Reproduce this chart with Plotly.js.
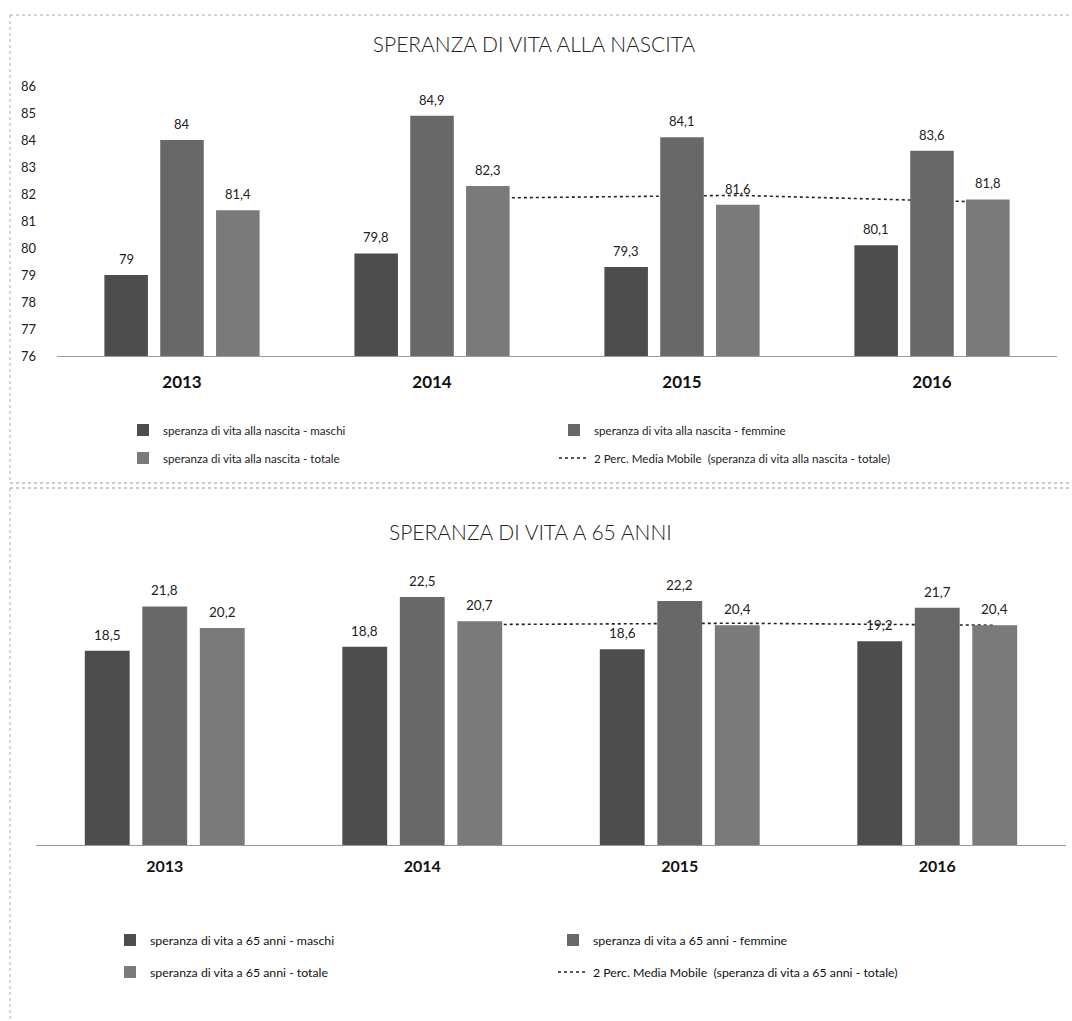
<!DOCTYPE html>
<html>
<head>
<meta charset="utf-8">
<script src="https://cdn.plot.ly/plotly-3.0.1.min.js"></script>
<style>html,body{margin:0;padding:0;background:#fff;overflow:hidden}#chart{width:1072px;height:1021px}</style>
</head>
<body>
<div id="chart"></div>
<script>
// ---- data ----
const years = ['2013', '2014', '2015', '2016'];
const nascitaMaschi = [79, 79.8, 79.3, 80.1];
const nascitaFemmine = [84, 84.9, 84.1, 83.6];
const nascitaTotale = [81.4, 82.3, 81.6, 81.8];
const nascitaMediaMobile = [null, 81.85, 81.95, 81.7];
const anni65Maschi = [18.5, 18.8, 18.6, 19.2];
const anni65Femmine = [21.8, 22.5, 22.2, 21.7];
const anni65Totale = [20.2, 20.7, 20.4, 20.4];
const anni65MediaMobile = [null, 20.45, 20.55, 20.4];

const nameNascita = ['speranza di vita alla nascita - maschi', 'speranza di vita alla nascita - femmine',
  'speranza di vita alla nascita - totale', '2 Perc. Media Mobile  (speranza di vita alla nascita - totale)'];
const name65 = ['speranza di vita a 65 anni - maschi', 'speranza di vita a 65 anni - femmine',
  'speranza di vita a 65 anni - totale', '2 Perc. Media Mobile  (speranza di vita a 65 anni - totale)'];

// ---- layout helpers ----
const W = 1072, H = 1021;
const px = x => x / W;
const py = y => 1 - y / H;
const FONT = 'Lato, "Open Sans", sans-serif';
const BARGAP = 0.33;
const SLOT = (1 - BARGAP) / 3;
const colors = ['#4d4d4d', '#686868', '#7a7a7a'];
const idx = years.map((_, i) => i);
const fmt = v => String(v).replace('.', ',');

const traces = [];
function addChart(series, names, ma, xb, yb, xo, yo, legA, legB) {
  series.forEach((vals, k) => {
    traces.push({
      type: 'bar', x: idx, y: vals, name: names[k], xaxis: xo, yaxis: yo,
      marker: {color: colors[k], line: {width: 0}},
      legend: k < 2 ? legA : legB, hoverinfo: 'y'
    });
  });
  traces.push({
    type: 'scatter', mode: 'lines', x: idx.map(i => i + SLOT), y: ma, name: names[3],
    xaxis: xb, yaxis: yb, line: {color: '#222', width: 1.6, dash: 'dot'},
    legend: legB, connectgaps: false
  });
}
addChart([nascitaMaschi, nascitaFemmine, nascitaTotale], nameNascita, nascitaMediaMobile,
  'x', 'y', 'x3', 'y3', 'legend', 'legend2');
addChart([anni65Maschi, anni65Femmine, anni65Totale], name65, anni65MediaMobile,
  'x2', 'y2', 'x4', 'y4', 'legend3', 'legend4');

// value labels
const annotations = [];
function addLabels(series, xref, yref, size) {
  series.forEach((vals, k) => {
    vals.forEach((v, i) => {
      annotations.push({
        x: i + (k - 1) * SLOT, y: v, xref: xref, yref: yref, text: fmt(v),
        showarrow: false, yanchor: 'bottom', yshift: 6,
        font: {family: FONT, size: size, color: '#222'}
      });
    });
  });
}
addLabels([nascitaMaschi, nascitaFemmine, nascitaTotale], 'x3', 'y3', 13);
addLabels([anni65Maschi, anni65Femmine, anni65Totale], 'x4', 'y4', 13.5);

annotations.push({
  text: 'SPERANZA DI VITA A 65 ANNI', xref: 'paper', yref: 'paper', x: px(530), y: py(531),
  showarrow: false, xanchor: 'center', yanchor: 'middle',
  font: {family: FONT, size: 21, color: '#222', weight: 300}
});

const xcommon = {
  range: [-0.5, 3.5], tickvals: idx, ticktext: years, showgrid: false, zeroline: false,
  showline: true, linecolor: '#999', linewidth: 1, ticks: '', fixedrange: true
};
const hidden = {visible: false, showgrid: false, zeroline: false, fixedrange: true};

const legBase = {
  orientation: 'h', xanchor: 'left', yanchor: 'middle', bgcolor: 'rgba(0,0,0,0)',
  borderwidth: 0, entrywidthmode: 'pixels', traceorder: 'normal'
};

const layout = {
  width: W, height: H, margin: {l: 0, r: 0, t: 0, b: 0, autoexpand: false},
  paper_bgcolor: '#fff', plot_bgcolor: 'rgba(0,0,0,0)',
  barmode: 'group', bargap: BARGAP, bargroupgap: 0.22,
  font: {family: FONT, color: '#222'},
  title: {
    text: 'SPERANZA DI VITA ALLA NASCITA', x: px(534), xanchor: 'center', y: py(45), yanchor: 'middle',
    font: {family: FONT, size: 21, color: '#222', weight: 300}
  },
  xaxis: Object.assign({}, xcommon, {
    domain: [px(57), px(1057)], anchor: 'y', ticklabelstandoff: 11,
    tickfont: {family: FONT, size: 17, color: '#111', weight: 'bold'}
  }),
  yaxis: {
    domain: [py(356), py(86)], range: [76, 86], dtick: 1, anchor: 'x', showgrid: false,
    zeroline: false, showline: false, ticks: '', ticklabelstandoff: 20, fixedrange: true,
    tickfont: {family: FONT, size: 13, color: '#222'}
  },
  xaxis3: Object.assign({}, hidden, {overlaying: 'x', range: [-0.5, 3.5], anchor: 'y3'}),
  yaxis3: Object.assign({}, hidden, {overlaying: 'y', range: [76, 86], anchor: 'x3'}),
  xaxis2: Object.assign({}, xcommon, {
    domain: [px(36), px(1066)], anchor: 'y2', ticklabelstandoff: 7,
    tickfont: {family: FONT, size: 16, color: '#111', weight: 'bold'}
  }),
  yaxis2: Object.assign({}, hidden, {domain: [py(845), py(577)], range: [4, 24], anchor: 'x2'}),
  xaxis4: Object.assign({}, hidden, {overlaying: 'x2', range: [-0.5, 3.5], anchor: 'y4'}),
  yaxis4: Object.assign({}, hidden, {overlaying: 'y2', range: [4, 24], anchor: 'x4'}),
  legend: Object.assign({}, legBase, {x: px(123), y: py(430), entrywidth: 386,
    font: {family: FONT, size: 11.6, color: '#222'}}),
  legend2: Object.assign({}, legBase, {x: px(123), y: py(458), entrywidth: 386,
    font: {family: FONT, size: 11.6, color: '#222'}}),
  legend3: Object.assign({}, legBase, {x: px(110), y: py(940), entrywidth: 398,
    font: {family: FONT, size: 12.3, color: '#111'}}),
  legend4: Object.assign({}, legBase, {x: px(110), y: py(972), entrywidth: 398,
    font: {family: FONT, size: 12.3, color: '#111'}}),
  annotations: annotations,
  shapes: [
    {type: 'line', xref: 'paper', yref: 'paper', x0: px(10), x1: 1, y0: py(15), y1: py(15), line: {color: '#aaa', width: 1, dash: 'dot'}},
    {type: 'line', xref: 'paper', yref: 'paper', x0: px(10), x1: px(10), y0: py(15), y1: py(483), line: {color: '#aaa', width: 1, dash: 'dot'}},
    {type: 'line', xref: 'paper', yref: 'paper', x0: px(10), x1: 1, y0: py(483), y1: py(483), line: {color: '#999', width: 1, dash: 'dot'}},
    {type: 'line', xref: 'paper', yref: 'paper', x0: px(10), x1: 1, y0: py(488), y1: py(488), line: {color: '#999', width: 1, dash: 'dot'}},
    {type: 'line', xref: 'paper', yref: 'paper', x0: px(10), x1: px(10), y0: py(488), y1: 0, line: {color: '#aaa', width: 1, dash: 'dot'}}
  ]
};

Plotly.newPlot('chart', traces, layout, {displayModeBar: false, staticPlot: true});
</script>
</body>
</html>
